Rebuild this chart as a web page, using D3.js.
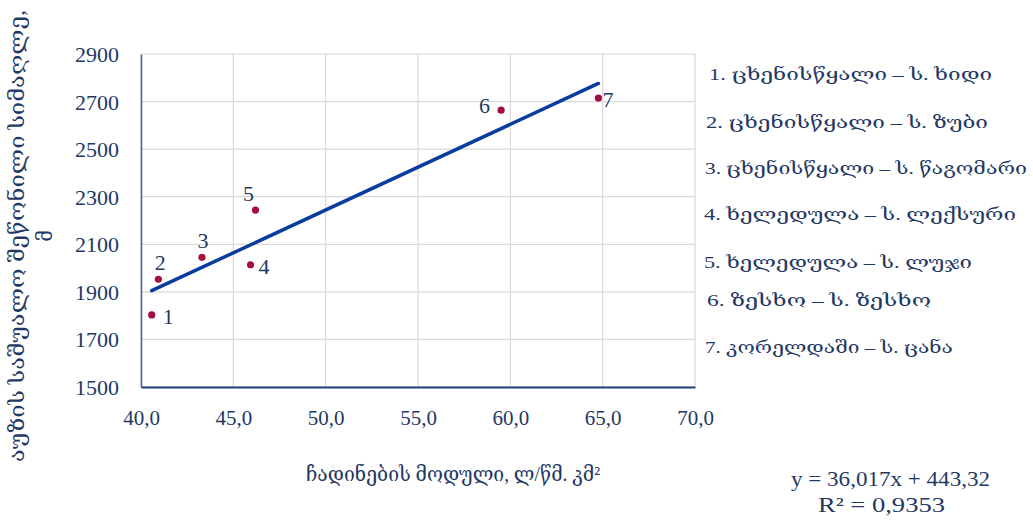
<!DOCTYPE html>
<html><head><meta charset="utf-8">
<script src="https://cdn.jsdelivr.net/npm/d3@7"></script>
<style>
body{margin:0;background:#fff;}
text{font-family:"Liberation Serif","DejaVu Serif","DejaVu Sans",serif;}
</style></head>
<body><svg id="c" width="1033" height="520"></svg>
<script>
// data
const ids = ["1","2","3","4","5","6","7"];
const xVals = [40.58, 40.94, 43.3, 45.93, 46.2, 59.5, 64.77];
const yVals = [1803, 1953, 2045, 2014, 2244, 2664, 2715];
const xTicks = [40, 45, 50, 55, 60, 65, 70];
const yTicks = [1500, 1700, 1900, 2100, 2300, 2500, 2700, 2900];
const legendLabels = [
  "1.  ცხენისწყალი – ს. ხიდი",
  "2. ცხენისწყალი – ს. ზუბი",
  "3. ცხენისწყალი – ს. წაგომარი",
  "4. ხელედულა – ს. ლექსური",
  "5. ხელედულა – ს. ლუჯი",
  "6. ზესხო – ს. ზესხო",
  "7. კორელდაში – ს. ცანა"
];
const slope = 36.017, intercept = 443.32;
const eqText = "y = 36,017x + 443,32";
const r2Text = "R² = 0,9353";
const yTitle1 = "აუზის საშუალო შეწონილი სიმაღლე,";
const yTitle2 = "მ";
const xTitle = "ჩადინების მოდული, ლ/წმ. კმ²";

const navy = "#1f3864";
const svg = d3.select("#c");
const L = 141, R = 695, T = 54, B = 387;
const x = d3.scaleLinear().domain([40, 70]).range([L, R]);
const y = d3.scaleLinear().domain([1500, 2900]).range([B, T]);

// grid
svg.append("g").selectAll("line").data(yTicks).join("line")
  .attr("x1", L).attr("x2", R).attr("y1", d => y(d)).attr("y2", d => y(d))
  .attr("stroke", "#d9d9d9").attr("stroke-width", 1.2);
svg.append("g").selectAll("line").data(xTicks).join("line")
  .attr("y1", T).attr("y2", B).attr("x1", d => x(d)).attr("x2", d => x(d))
  .attr("stroke", "#d9d9d9").attr("stroke-width", 1.2);

// axes
const yAxis = d3.axisLeft(y).tickValues(yTicks).tickSize(0).tickPadding(22).tickFormat(d3.format("d"));
const gy = svg.append("g").attr("transform", `translate(${L},0)`).call(yAxis);
gy.select(".domain").attr("stroke", "#4a6296").attr("stroke-width", 1.5);
gy.selectAll("text").attr("fill", navy).style("font-size", "22px").attr("dy", "0.34em");

const xA = d3.axisBottom(x).tickValues(xTicks).tickSize(0).tickPadding(23).tickFormat(d => d3.format(".1f")(d).replace(".", ","));
const gx = svg.append("g").attr("transform", `translate(0,${B})`).call(xA);
gx.select(".domain").attr("stroke", "#1f3f7a").attr("stroke-width", 2);
gx.selectAll("text").attr("fill", navy).style("font-size", "21px");

// trend line
const xMin = d3.min(xVals), xMax = d3.max(xVals);
svg.append("line")
  .attr("x1", x(xMin)).attr("y1", y(slope * xMin + intercept))
  .attr("x2", x(xMax)).attr("y2", y(slope * xMax + intercept))
  .attr("stroke", "#0a3ca0").attr("stroke-width", 3.5).attr("stroke-linecap", "round");

// points
const pts = ids.map((id, i) => ({id, x: xVals[i], y: yVals[i]}));
svg.append("g").selectAll("circle").data(pts).join("circle")
  .attr("cx", d => x(d.x)).attr("cy", d => y(d.y)).attr("r", 3.6).attr("fill", "#a50d3a");

// point labels: offsets
const off = {"1":[11,9,"start"],"2":[2,-9,"middle"],"3":[1,-9,"middle"],"4":[8,9,"start"],"5":[-7,-9,"middle"],"6":[-11,3,"end"],"7":[4,9,"start"]};
svg.append("g").selectAll("text").data(pts).join("text")
  .attr("x", d => x(d.x) + off[d.id][0]).attr("y", d => y(d.y) + off[d.id][1])
  .attr("text-anchor", d => off[d.id][2])
  .attr("fill", navy).style("font-size", "22px").text(d => d.id);

// legend
const legY = [80, 128, 174, 220, 268, 306, 353];
const legX = [709, 706, 705, 704, 704, 707, 705];
const legW = [283, 282, 322, 312, 268, 224, 248];
svg.append("g").selectAll("text").data(legendLabels).join("text")
  .attr("x", (d, i) => legX[i]).attr("y", (d, i) => legY[i])
  .attr("fill", navy).style("font-size", "17px")
  .attr("textLength", (d, i) => legW[i]).attr("lengthAdjust", "spacingAndGlyphs")
  .text(d => d);

// y title
svg.append("text").attr("transform", "translate(24,236) rotate(-90)")
  .attr("text-anchor", "middle").attr("fill", navy).style("font-size", "20px")
  .attr("textLength", 452).attr("lengthAdjust", "spacingAndGlyphs").text(yTitle1);
svg.append("text").attr("transform", "translate(52,236) rotate(-90)")
  .attr("text-anchor", "middle").attr("fill", navy).style("font-size", "20px").text(yTitle2);

// x title
svg.append("text").attr("x", 306).attr("y", 481).attr("fill", navy).style("font-size", "21px")
  .attr("textLength", 294).attr("lengthAdjust", "spacingAndGlyphs").text(xTitle);

// equation
svg.append("text").attr("x", 791).attr("y", 486)
  .attr("fill", navy).style("font-size", "21px")
  .attr("textLength", 199).attr("lengthAdjust", "spacingAndGlyphs").text(eqText);
svg.append("text").attr("x", 818).attr("y", 512)
  .attr("fill", navy).style("font-size", "21px")
  .attr("textLength", 127).attr("lengthAdjust", "spacingAndGlyphs").text(r2Text);
</script></body></html>
